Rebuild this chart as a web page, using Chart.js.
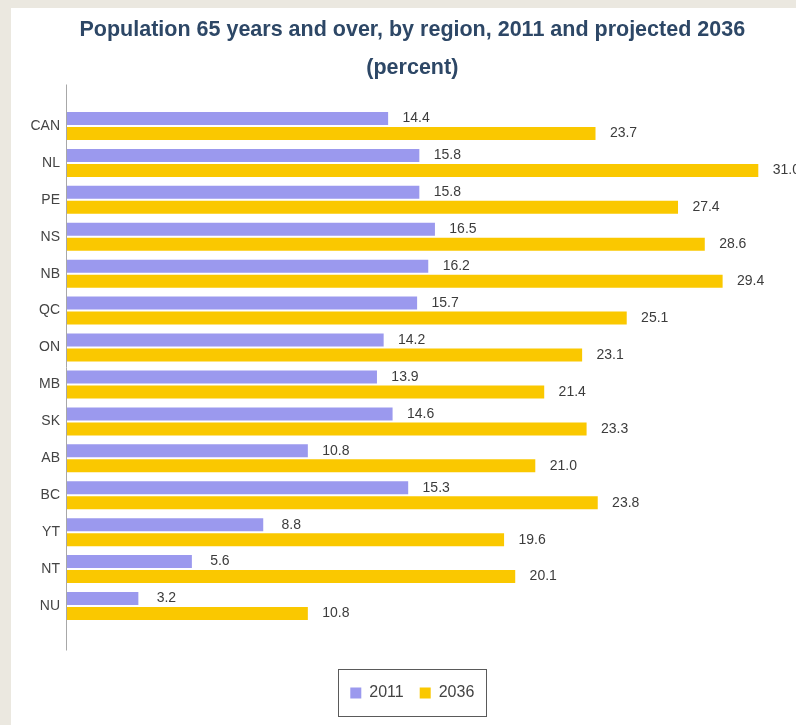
<!DOCTYPE html>
<html>
<head>
<meta charset="utf-8">
<script src="https://cdn.jsdelivr.net/npm/chart.js@4.4.1/dist/chart.umd.min.js"></script>
<style>
  html, body { margin: 0; padding: 0; background: #ebe8e0; overflow: hidden; }
  #panel {
    position: absolute; left: 11px; top: 8px;
    width: 788px; height: 717px; background: #ffffff;
  }
</style>
</head>
<body>
<div id="panel"><canvas id="aging-chart"></canvas></div>
<script>
    const regions = ['CAN', 'NL', 'PE', 'NS', 'NB', 'QC', 'ON', 'MB', 'SK', 'AB', 'BC', 'YT', 'NT', 'NU'];
    const pct2011 = [14.4, 15.8, 15.8, 16.5, 16.2, 15.7, 14.2, 13.9, 14.6, 10.8, 15.3, 8.8, 5.6, 3.2];
    const pct2036 = [23.7, 31.0, 27.4, 28.6, 29.4, 25.1, 23.1, 21.4, 23.3, 21.0, 23.8, 19.6, 20.1, 10.8];
    const seriesNames = ['2011', '2036'];
    const titleLines = ['Population 65 years and over, by region, 2011 and projected 2036', '(percent)'];

    const FONT = "'Liberation Sans', Arial, sans-serif";

    // vertical axis line, runs a bit past the first and last category
    const axisLine = {
        id: 'axisLine',
        afterDatasetsDraw(chart) {
            const { ctx, chartArea } = chart;
            const x = Math.round(chart.scales.x.getPixelForValue(0)) - 0.5;
            ctx.save();
            ctx.strokeStyle = '#a8a8a8';
            ctx.lineWidth = 1;
            ctx.beginPath();
            ctx.moveTo(x, chartArea.top - 23);
            ctx.lineTo(x, chartArea.bottom + 26);
            ctx.stroke();
            ctx.restore();
        }
    };

    // value printed just past the end of each bar
    const valueLabels = {
        id: 'valueLabels',
        afterDatasetsDraw(chart) {
            const { ctx } = chart;
            ctx.save();
            ctx.font = '14px ' + FONT;
            ctx.fillStyle = '#3c3c3c';
            ctx.textAlign = 'center';
            ctx.textBaseline = 'middle';
            chart.data.datasets.forEach((ds, i) => {
                chart.getDatasetMeta(i).data.forEach((bar, j) => {
                    ctx.fillText(ds.data[j].toFixed(1), bar.x + 28, bar.y);
                });
            });
            ctx.restore();
        }
    };

    // thin frame round the legend items
    const legendFrame = {
        id: 'legendFrame',
        afterDraw(chart) {
            const boxes = chart.legend.legendHitBoxes;
            if (!boxes || !boxes.length) return;
            const first = boxes[0], last = boxes[boxes.length - 1];
            const left = Math.round(first.left - 12) + 0.5;
            const right = Math.round(last.left + last.width + 12) + 0.5;
            const top = Math.round(first.top - 16) + 0.5;
            const bottom = Math.round(first.top + first.height + 15) + 0.5;
            const { ctx } = chart;
            ctx.save();
            ctx.strokeStyle = '#5a5a5a';
            ctx.lineWidth = 1;
            ctx.strokeRect(left, top, right - left, bottom - top);
            ctx.restore();
        }
    };

    const chart = new Chart(document.getElementById('aging-chart'), {
        type: 'bar',
        data: {
            labels: regions,
            datasets: [
                { label: seriesNames[0], data: pct2011, backgroundColor: '#9b99ee', borderWidth: 0, yAxisID: 'y' },
                { label: seriesNames[1], data: pct2036, backgroundColor: '#fac800', borderWidth: 0, yAxisID: 'y' }
            ]
        },
        options: {
            indexAxis: 'y',
            responsive: true,
            maintainAspectRatio: false,
            animation: false,
            datasets: {
                bar: { categoryPercentage: 0.813, barPercentage: 0.867 }
            },
            layout: { padding: { left: 15, right: 0.4, top: 0, bottom: 14 } },
            scales: {
                x: {
                    type: 'linear',
                    min: 0,
                    max: 32,
                    grid: { display: false, drawTicks: false },
                    border: { display: false },
                    ticks: { display: false },
                    afterFit(scale) { scale.height = 44.5; }
                },
                y: {
                    grid: { display: false, drawTicks: false },
                    border: { display: false },
                    ticks: {
                        color: '#444',
                        padding: 7,
                        font: { family: FONT, size: 14 }
                    },
                    afterFit(scale) { scale.width = 41; }
                },
                // empty right-hand gutter so the title and legend centre where they should
                y2: {
                    type: 'category',
                    axis: 'y',
                    position: 'right',
                    grid: { display: false, drawTicks: false },
                    border: { display: false },
                    ticks: { display: false },
                    afterFit(scale) { scale.width = 18; }
                }
            },
            plugins: {
                title: {
                    display: true,
                    text: titleLines,
                    color: '#2d4766',
                    font: { family: FONT, size: 21.5, weight: 'bold', lineHeight: 38 / 21.5 },
                    padding: { top: 3, bottom: 20.5 }
                },
                legend: {
                    position: 'bottom',
                    labels: {
                        boxWidth: 11,
                        boxHeight: 11,
                        padding: 16,
                        color: '#444',
                        font: { family: FONT, size: 16 }
                    }
                },
                tooltip: { enabled: false }
            }
        },
        plugins: [axisLine, valueLabels, legendFrame]
    });
</script>
</body>
</html>
